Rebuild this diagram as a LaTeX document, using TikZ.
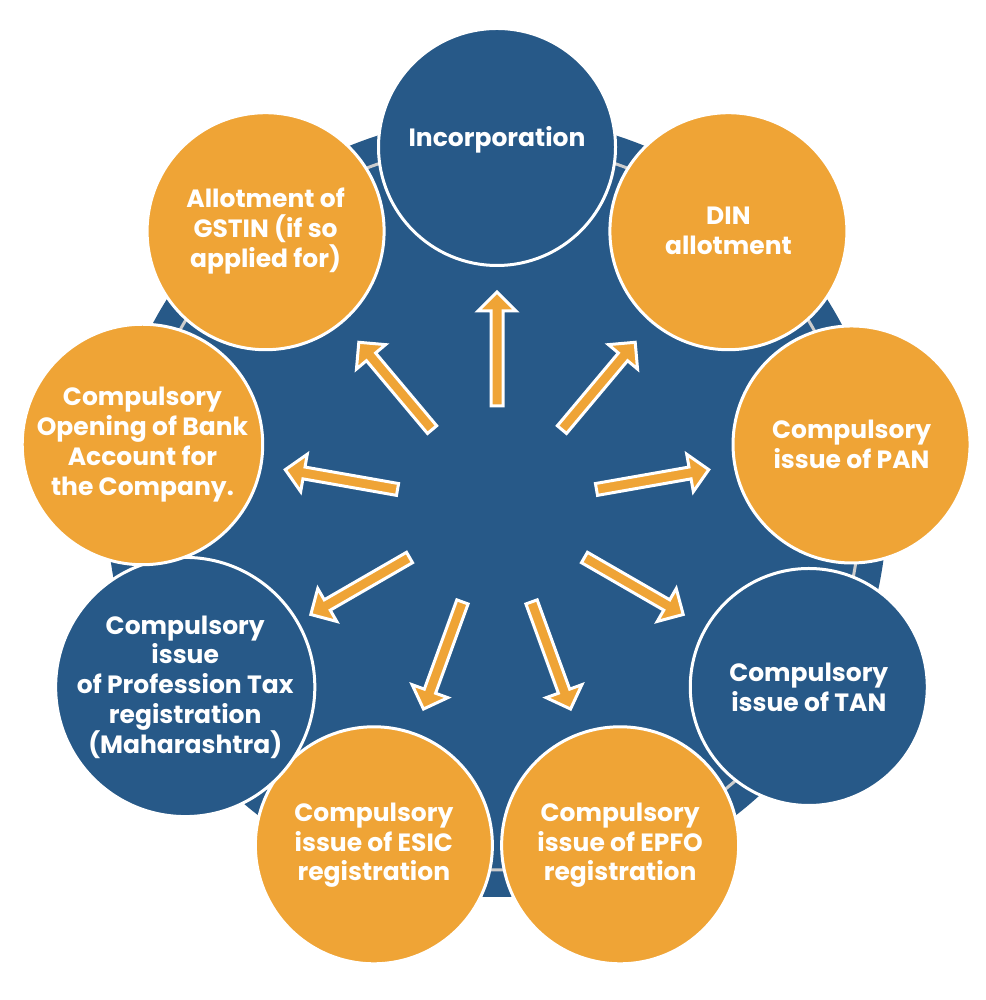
\documentclass[tikz,border=0pt]{standalone}
\usepackage{fontspec}
\setmainfont{Poppins}
\usetikzlibrary{calc}
\definecolor{hubblue}{RGB}{39,89,136}
\definecolor{steporange}{RGB}{239,164,54}

\begin{document}
\begin{tikzpicture}[
    x=1pt, y=1pt,
    stage/.style={circle, draw=white, line width=3pt, minimum size=237pt,
                  inner sep=0pt, align=center, text=white,
                  font=\fontsize{25}{29.8}\selectfont\bfseries},
    bstage/.style={stage, fill=hubblue},
    ostage/.style={stage, fill=steporange},
    blockarr/.style={fill=steporange, draw=white, line width=3pt, line join=miter}
]
    \useasboundingbox (0,0) rectangle (985,1000);
    \coordinate (hub) at (497,493);

    % backdrop and ring
    \fill[hubblue] (hub) circle[radius=390];
    \draw[gray!40, line width=3pt] (hub) circle[radius=363];

    \node[bstage, text depth=20pt] (inc) at ($(hub)+(90:360)$) {Incorporation};
    \node[ostage] (din)  at ($(hub)+(50:360)$)   {DIN\\allotment};
    \node[ostage] (pan)  at ($(hub)+(10:360)$)   {Compulsory\\issue of PAN};
    \node[bstage] (tan)  at ($(hub)+(-30:360)$)  {Compulsory\\issue of TAN};
    \node[ostage] (epfo) at ($(hub)+(-70:360)$)  {Compulsory\\issue of EPFO\\registration};
    \node[ostage] (esic) at ($(hub)+(-110:360)$) {Compulsory\\issue of ESIC\\registration};
    \node[bstage] (ptax) at ($(hub)+(-150:360)$) {Compulsory\\issue\\of Profession Tax\\registration\\(Maharashtra)};
    \node[ostage] (bank) at ($(hub)+(170:360)$)  {Compulsory\\Opening of Bank\\Account for\\the Company.};
    \node[ostage] (gst)  at ($(hub)+(130:360)$)  {Allotment of\\GSTIN (if so\\applied for)};

    % block arrows from the middle
    \foreach \a in {90,50,...,-230} {
        \begin{scope}[shift={(hub)}, rotate=\a]
            \draw[blockarr] (101,-6) -- (196,-6) -- (196,-19) -- (215,0)
                -- (196,19) -- (196,6) -- (101,6) -- cycle;
        \end{scope}
    }
\end{tikzpicture}
\end{document}
